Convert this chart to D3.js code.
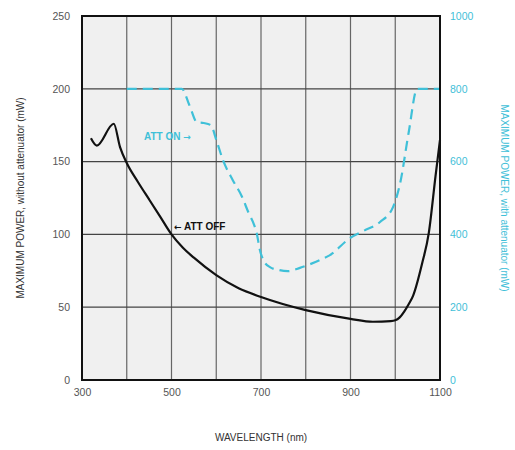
<!DOCTYPE html>
<html><head><meta charset="utf-8">
<script src="https://cdn.jsdelivr.net/npm/d3@7"></script>
<style>body{margin:0;background:#fff}svg{display:block}</style>
</head><body>
<script>
// Data
const xTicks = [300, 500, 700, 900, 1100];
const xGrid = [300, 400, 500, 600, 700, 800, 900, 1000, 1100];
const leftTicks = [0, 50, 100, 150, 200, 250];
const rightTicks = [0, 200, 400, 600, 800, 1000];
// ATT OFF: wavelength (nm), power without attenuator (mW)
const offWl = [320, 333, 371, 385, 400, 425, 450, 475, 500, 525, 550, 600, 650, 700, 800, 900, 950, 990, 1000, 1010, 1020, 1030, 1040, 1060, 1075, 1090, 1100];
const offPw = [166, 161, 176, 160, 149, 136, 124, 112, 100, 91, 84, 72, 63, 57, 48, 42, 40, 40.5, 41, 43, 47, 52, 58, 80, 101, 140, 165];
// ATT ON: wavelength (nm), power with attenuator (mW)
const onWl = [400, 523, 540, 557, 572, 588, 600, 615, 637, 657, 672, 685, 691, 697, 705, 720, 740, 760, 787, 832, 854, 899, 930, 966, 995, 1011, 1030, 1049, 1100];
const onPw = [800, 800, 755, 708, 706, 700, 660, 604, 549, 505, 460, 425, 400, 360, 330, 310, 302, 299, 308, 330, 343, 390, 410, 434, 475, 541, 680, 800, 800];

const W = 515, H = 450;
const m = {l: 82, t: 16, r: 440, b: 380};
const cyan = "#3fc0d8";
const FONT = "'Liberation Sans', Arial, sans-serif";
const svg = d3.select("body").append("svg").attr("width", W).attr("height", H)
  .style("font-family", FONT);

const x = d3.scaleLinear().domain([300, 1100]).range([m.l, m.r]);
const yL = d3.scaleLinear().domain([0, 250]).range([m.b, m.t]);
const yR = d3.scaleLinear().domain([0, 1000]).range([m.b, m.t]);

svg.append("rect").attr("x", m.l).attr("y", m.t).attr("width", m.r - m.l).attr("height", m.b - m.t).attr("fill", "#f0f0f0");

// grid
svg.append("g").selectAll("line").data(xGrid).join("line")
  .attr("x1", d => x(d)).attr("x2", d => x(d)).attr("y1", m.t).attr("y2", m.b)
  .attr("stroke", "#666").attr("stroke-width", 1.2);
svg.append("g").selectAll("line").data(leftTicks).join("line")
  .attr("y1", d => yL(d)).attr("y2", d => yL(d)).attr("x1", m.l).attr("x2", m.r)
  .attr("stroke", "#444").attr("stroke-width", 1.2);

// axes
const fmt = d3.format("d");
const ax = d3.axisBottom(x).tickValues(xTicks).tickFormat(fmt).tickSize(0).tickPadding(9);
svg.append("g").attr("transform", `translate(0,${m.b})`).call(ax)
  .call(g => g.select(".domain").remove())
  .call(g => g.selectAll("text").attr("fill", "#555").style("font-size", "10.5px").style("font-family", FONT));
const al = d3.axisLeft(yL).tickValues(leftTicks).tickFormat(fmt).tickSize(0).tickPadding(12);
svg.append("g").attr("transform", `translate(${m.l},0)`).call(al)
  .call(g => g.select(".domain").remove())
  .call(g => g.selectAll("text").attr("fill", "#555").style("font-size", "10.5px").style("font-family", FONT));
const ar = d3.axisRight(yR).tickValues(rightTicks).tickFormat(fmt).tickSize(0).tickPadding(10);
svg.append("g").attr("transform", `translate(${m.r},0)`).call(ar)
  .call(g => g.select(".domain").remove())
  .call(g => g.selectAll("text").attr("fill", cyan).style("font-size", "10.5px").style("font-family", FONT));

// curves
const offData = offWl.map((w, i) => [w, offPw[i]]);
const onData = onWl.map((w, i) => [w, onPw[i]]);
svg.append("path").datum(onData)
  .attr("d", d3.line().x(d => x(d[0])).y(d => yR(d[1])).curve(d3.curveMonotoneX))
  .attr("fill", "none").attr("stroke", cyan).attr("stroke-width", 2.2).attr("stroke-dasharray", "10,6");
svg.append("path").datum(offData)
  .attr("d", d3.line().x(d => x(d[0])).y(d => yL(d[1])).curve(d3.curveMonotoneX))
  .attr("fill", "none").attr("stroke", "#111").attr("stroke-width", 2.2);

// frame
svg.append("rect").attr("x", m.l).attr("y", m.t).attr("width", m.r - m.l).attr("height", m.b - m.t)
  .attr("fill", "none").attr("stroke", "#111").attr("stroke-width", 2);

// annotations
const on = svg.append("text").attr("x", 144).attr("y", 140)
  .attr("fill", cyan).style("font-size", "10px").style("font-weight", "bold");
on.append("tspan").text("ATT ON ");
on.append("tspan").style("font-family", "'DejaVu Sans', sans-serif").style("font-size", "9px").text("\u2192");
const off = svg.append("text").attr("x", 174).attr("y", 230)
  .attr("fill", "#111").style("font-size", "10px").style("font-weight", "bold");
off.append("tspan").style("font-family", "'DejaVu Sans', sans-serif").style("font-size", "9px").text("\u2190");
off.append("tspan").text(" ATT OFF");

// axis titles
svg.append("text").attr("transform", `translate(24,${(m.t + m.b) / 2}) rotate(-90)`)
  .attr("text-anchor", "middle").attr("fill", "#333").style("font-size", "10px")
  .text("MAXIMUM POWER, without attenuator (mW)");
svg.append("text").attr("transform", `translate(501,${(m.t + m.b) / 2}) rotate(90)`)
  .attr("text-anchor", "middle").attr("fill", cyan).style("font-size", "10px")
  .text("MAXIMUM POWER, with attenuator (mW)");
svg.append("text").attr("x", (m.l + m.r) / 2).attr("y", 441)
  .attr("text-anchor", "middle").attr("fill", "#333").style("font-size", "10px")
  .text("WAVELENGTH (nm)");
</script>
</body></html>
